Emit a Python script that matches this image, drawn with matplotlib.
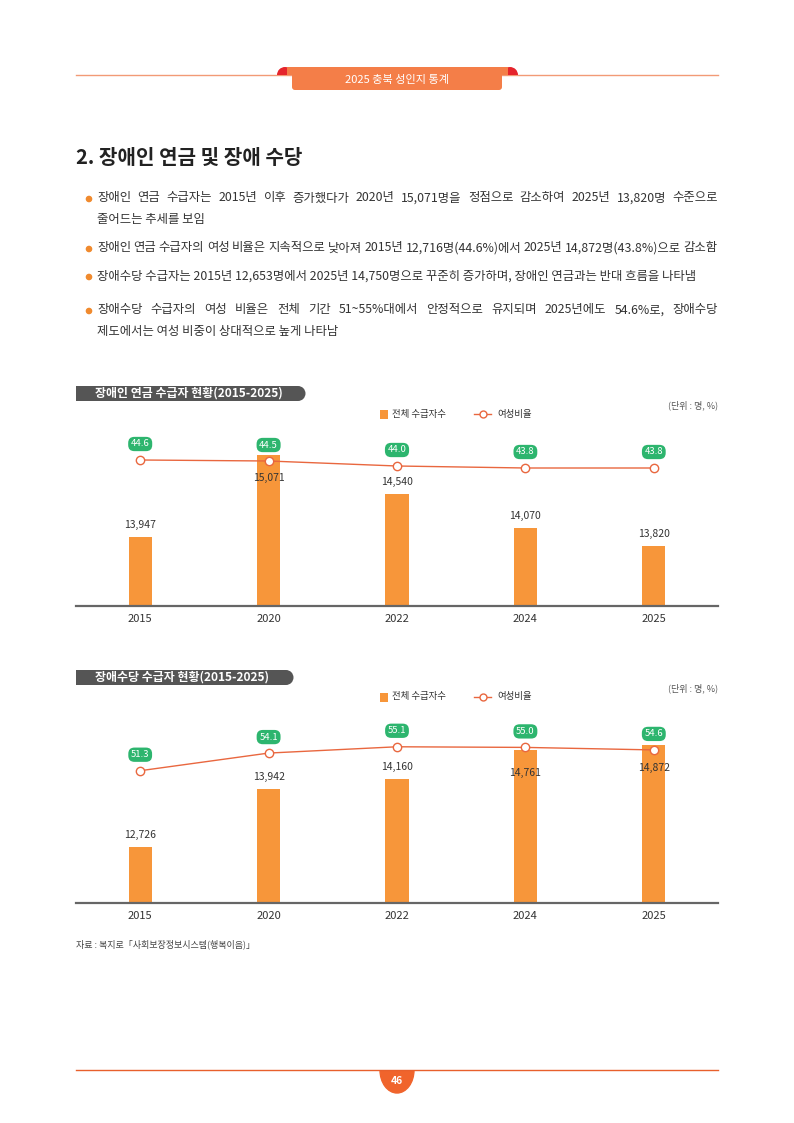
import matplotlib
matplotlib.use('Agg')
import matplotlib.pyplot as plt
from matplotlib.patches import Rectangle, Circle, FancyBboxPatch, Ellipse, Wedge
import numpy as np

plt.rcParams['font.family'] = ['Noto Sans CJK KR', 'DejaVu Sans']

# data
years = ['2015', '2020', '2022', '2024', '2025']
pension_total = [13947, 15071, 14540, 14070, 13820]
pension_female_ratio = [44.6, 44.5, 44.0, 43.8, 43.8]
allowance_total = [12726, 13942, 14160, 14761, 14872]
allowance_female_ratio = [51.3, 54.1, 55.1, 55.0, 54.6]

legend_bar = '전체 수급자수'
legend_line = '여성비율'
unit_text = '(단위 : 명, %)'

BAR_C = '#F7963A'
LINE_C = '#E9673F'
GREEN = '#2DB56E'
TEXT_C = '#333333'

W, H = 794, 1123
fig = plt.figure(figsize=(W / 100, H / 100), dpi=100)

# page layer in pixel coordinates
page = fig.add_axes([0, 0, 1, 1])
page.set_xlim(0, W)
page.set_ylim(H, 0)
page.axis('off')
renderer = fig.canvas.get_renderer()

# header
page.plot([76, 718], [74.5, 74.5], color='#F29A76', lw=1.0)
page.add_patch(Wedge((285, 75), 8, 180, 360, color='#E5242C', lw=0, zorder=2))
page.add_patch(Wedge((510, 75), 8, 180, 360, color='#E5242C', lw=0, zorder=2))
page.add_patch(Rectangle((287, 67), 221, 8, color='#F47E48', lw=0, zorder=3))
page.add_patch(FancyBboxPatch((292, 67), 210, 23, boxstyle='round,pad=0,rounding_size=3',
                              fc='#F47E48', ec='none', zorder=3))
page.text(397, 80, '2025 충북 성인지 통계', color='white', fontsize=8, ha='center', va='center', zorder=4)

# section title
page.text(76, 157, '2. 장애인 연금 및 장애 수당', fontsize=14.5, fontweight='bold', color='#222222',
          ha='left', va='center')


def justified(y, txt, x0, x1, **kw):
    # spread the words of one line between x0 and x1
    words = txt.split(' ')
    arts = [page.text(x0, y, w, ha='left', va='center', **kw) for w in words]
    widths = [a.get_window_extent(renderer).width for a in arts]
    gap = (x1 - x0 - sum(widths)) / (len(words) - 1)
    x = x0
    for a, w in zip(arts, widths):
        a.set_x(x)
        x += w + gap


# (y, bullet?, justified?, text)
bullets = [
    (198, True, True, '장애인 연금 수급자는 2015년 이후 증가했다가 2020년 15,071명을 정점으로 감소하여 2025년 13,820명 수준으로'),
    (220, False, False, '줄어드는 추세를 보임'),
    (248, True, True, '장애인 연금 수급자의 여성 비율은 지속적으로 낮아져 2015년 12,716명(44.6%)에서 2025년 14,872명(43.8%)으로 감소함'),
    (276, True, False, '장애수당 수급자는 2015년 12,653명에서 2025년 14,750명으로 꾸준히 증가하며, 장애인 연금과는 반대 흐름을 나타냄'),
    (310, True, True, '장애수당 수급자의 여성 비율은 전체 기간 51~55%대에서 안정적으로 유지되며 2025년에도 54.6%로, 장애수당'),
    (332, False, False, '제도에서는 여성 비중이 상대적으로 높게 나타남'),
]
for y, dot, just, txt in bullets:
    if dot:
        page.add_patch(Circle((89, y + 1), 2.6, color='#F08A2E'))
    if just:
        justified(y, txt, 97, 718, fontsize=8.9, color=TEXT_C)
    else:
        page.text(97, y, txt, fontsize=8.9, color=TEXT_C, ha='left', va='center')


def title_bar(y_top, label, right):
    page.add_patch(Rectangle((76, y_top), right - 76, 15, color='#555555', lw=0))
    page.add_patch(Circle((right, y_top + 7.5), 7.5, color='#555555', lw=0))
    page.text(95, y_top + 7.3, label, color='white', fontsize=8.6, fontweight='bold', va='center')


def legend_row(y):
    page.add_patch(Rectangle((380, y - 4.5), 8, 9, color=BAR_C, lw=0))
    page.text(392, y, legend_bar, fontsize=6.8, color=TEXT_C, va='center')
    page.plot([474, 491], [y, y], color=LINE_C, lw=1)
    page.plot([482.5], [y], marker='o', ms=5, mfc='white', mec=LINE_C, mew=1)
    page.text(497, y, legend_line, fontsize=6.8, color=TEXT_C, va='center')


def draw_chart(top_px, bottom_px, totals, ratios, bar_lim, ratio_lim):
    rect = [76 / W, 1 - bottom_px / H, 642 / W, (bottom_px - top_px) / H]
    ax = fig.add_axes(rect)
    ax.patch.set_alpha(0)
    x = np.arange(len(years))
    ax.bar(x, totals, width=0.18, color=BAR_C, zorder=2)
    ax.set_xlim(-0.5, len(years) - 0.5)
    ax.set_ylim(*bar_lim)
    for s in ['top', 'left', 'right']:
        ax.spines[s].set_visible(False)
    ax.spines['bottom'].set_color('#666666')
    ax.spines['bottom'].set_linewidth(1.6)
    ax.set_yticks([])
    ax.set_xticks(x)
    ax.set_xticklabels(years, fontsize=8, color=TEXT_C)
    ax.tick_params(axis='x', length=0, pad=6)

    ax2 = ax.twinx()
    ax2.set_ylim(*ratio_lim)
    ax2.axis('off')
    ax2.plot(x, ratios, color=LINE_C, lw=1, marker='o', ms=6, mfc='white', mec=LINE_C, mew=1, zorder=3)

    for i, (v, r) in enumerate(zip(totals, ratios)):
        bar_top = ax.transData.transform((i, v))[1]
        marker_y = ax2.transData.transform((i, r))[1]
        # label goes inside the bar when the marker sits on the bar top
        off = -23 if marker_y - bar_top < 12 else 12
        ax.annotate(f'{v:,}', (i, v), xytext=(0, off), textcoords='offset pixels',
                    ha='center', va='center', fontsize=7.5, color=TEXT_C, zorder=4)
        ax2.annotate(f'{r:.1f}', (i, r), xytext=(0, 16), textcoords='offset pixels',
                     ha='center', va='center', fontsize=6.8, color='white', zorder=5,
                     bbox=dict(boxstyle='round,pad=0.28,rounding_size=0.65', fc=GREEN, ec='none'))
    return ax


# chart 1
title_bar(386, '장애인 연금 수급자 현황(2015-2025)', 298)
legend_row(414)
page.text(718, 405, unit_text, fontsize=6.5, color='#555555', ha='right', va='center')
draw_chart(430, 606, pension_total, pension_female_ratio, (13000, 15420), (30.0, 47.6))

# chart 2
title_bar(670, '장애수당 수급자 현황(2015-2025)', 286)
legend_row(697)
page.text(718, 688, unit_text, fontsize=6.5, color='#555555', ha='right', va='center')
draw_chart(720, 903, allowance_total, allowance_female_ratio, (11550, 15400), (30.3, 59.35))

page.text(76, 944, '자료 : 복지로「사회보장정보시스템(행복이음)」', fontsize=6.5, color='#444444', va='center')

# footer
page.plot([76, 718], [1070, 1070], color='#E8602C', lw=1.0, zorder=3)
clip = Rectangle((370, 1070), 60, 40, transform=page.transData)
ell = Ellipse((397, 1070), 34, 46, color='#F0642C', zorder=2)
page.add_patch(ell)
ell.set_clip_path(clip)
page.text(397, 1081, '46', color='white', fontsize=7.5, fontweight='bold', ha='center', va='center', zorder=4)

fig.savefig('out.png', dpi=100)
